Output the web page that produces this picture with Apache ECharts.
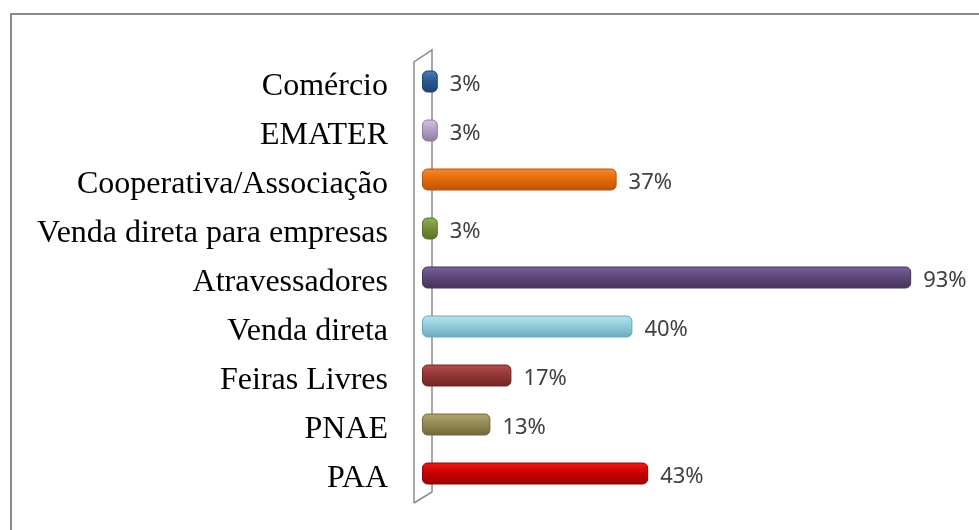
<!DOCTYPE html>
<html>
<head>
<meta charset="utf-8">
<script src="https://cdn.jsdelivr.net/npm/echarts@6/dist/echarts.min.js"></script>
<style>
  html, body { margin: 0; padding: 0; background: #fff; }
  #chart { width: 979px; height: 530px; }
</style>
</head>
<body>
<div id="chart"></div>
<script>
// dados
const categorias = [
  'Comércio', 'EMATER', 'Cooperativa/Associação', 'Venda direta para empresas',
  'Atravessadores', 'Venda direta', 'Feiras Livres', 'PNAE', 'PAA'
];
const valores = [3, 3, 37, 3, 93, 40, 17, 13, 43];
const cores = [
  ['#4a7cc0', '#2c5a94', '#1f4270'],
  ['#d2c4e4', '#b3a2c7', '#8c7aa3'],
  ['#f58a33', '#e46c0a', '#b85506'],
  ['#93b257', '#76923c', '#59702b'],
  ['#7a62a0', '#5f497a', '#45345a'],
  ['#b9e2ee', '#93cddd', '#6aa9ba'],
  ['#b3514f', '#953735', '#6e2624'],
  ['#b0a673', '#948a54', '#70683c'],
  ['#e81c1c', '#cc0000', '#990000']
];

// posição da área do gráfico
const GRID = {left: 422, top: 57, width: 526, height: 441};

const chart = echarts.init(document.getElementById('chart'));

const barData = valores.map((v, i) => ({
  value: v,
  itemStyle: {
    color: {
      type: 'linear', x: 0, y: 0, x2: 0, y2: 1,
      colorStops: [
        {offset: 0, color: cores[i][0]},
        {offset: 0.45, color: cores[i][1]},
        {offset: 1, color: cores[i][2]}
      ]
    },
    borderColor: cores[i][2]
  }
}));

// parede 3D do eixo (decoração)
const L = GRID.left, T = GRID.top, B = GRID.top + GRID.height;
const wallStyle = {stroke: '#8c8c8c', lineWidth: 1.5, fill: null};

const option = {
  animation: false,
  backgroundColor: '#fff',
  graphic: [
    {type: 'rect', shape: {x: 11, y: 14, width: 1000, height: 600}, style: {stroke: '#8a8a8a', lineWidth: 2, fill: null}, z: 0},
    {type: 'polyline', shape: {points: [[L - 8, B + 5], [L - 8, T + 5], [L + 10, T - 7], [L + 10, B - 6], [L - 8, B + 5]]}, style: wallStyle, z: 1}
  ],
  grid: {left: GRID.left, top: GRID.top, width: GRID.width, height: GRID.height, containLabel: false},
  xAxis: {
    type: 'value', min: 0, max: 100, show: false
  },
  yAxis: {
    type: 'category',
    data: categorias,
    inverse: true,
    axisLine: {show: false},
    axisTick: {show: false},
    axisLabel: {
      margin: 34,
      formatter: v => '{t|' + v + '}',
      rich: {
        t: {
          color: '#000',
          fontFamily: 'Liberation Serif',
          fontSize: 32,
          padding: [11, 0, 0, 0]
        }
      }
    }
  },
  series: [{
    type: 'bar',
    data: barData,
    barWidth: 22,
    z: 3,
    itemStyle: {borderRadius: 5, borderWidth: 1},
    label: {
      show: true,
      position: 'right',
      distance: 12,
      formatter: p => '{v|' + p.value + '%}',
      rich: {
        v: {
          color: '#404040',
          fontFamily: 'Noto Sans',
          fontSize: 22,
          padding: [6, 0, 0, 0]
        }
      }
    }
  }]
};

chart.setOption(option);
</script>
</body>
</html>
